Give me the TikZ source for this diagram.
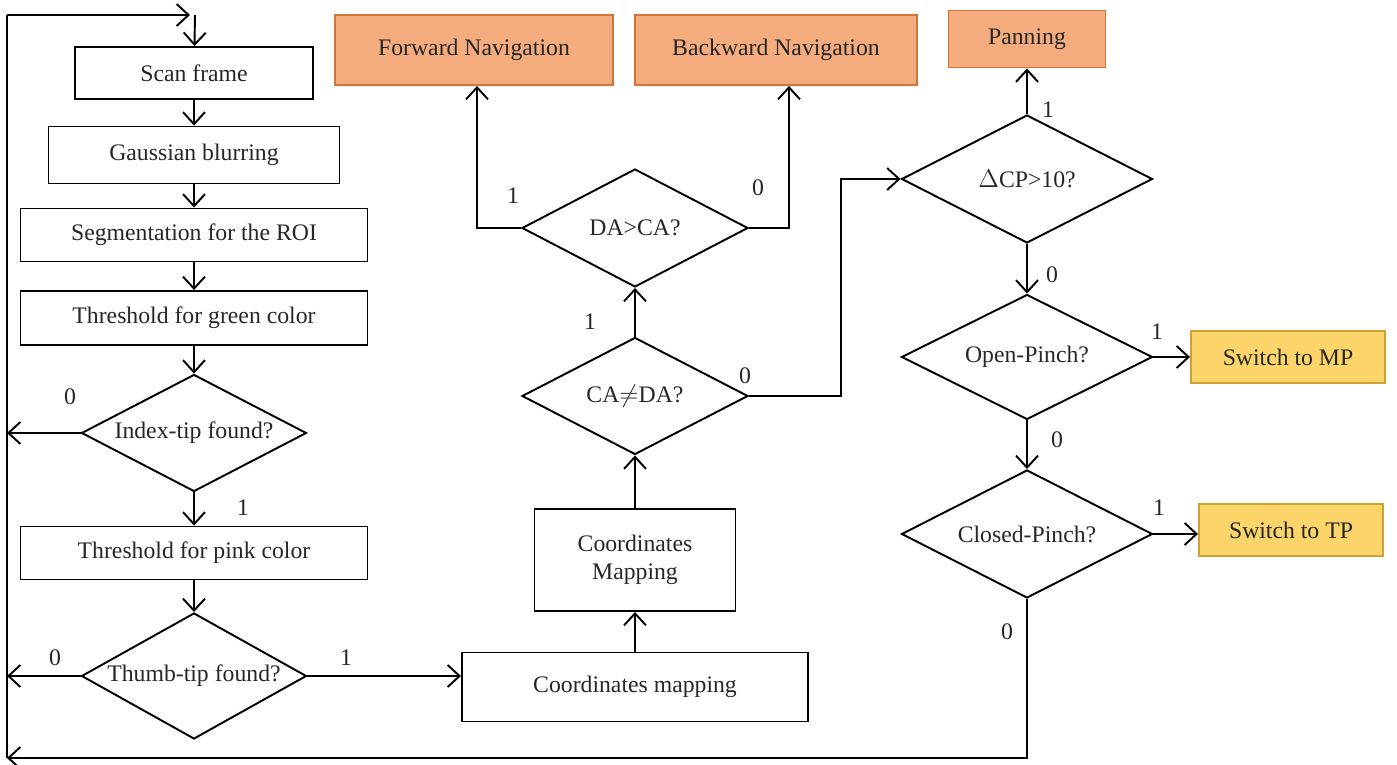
\documentclass[tikz,border=0pt]{standalone}
\usepackage{fontspec}
\setmainfont{Liberation Serif}
\usetikzlibrary{shapes.geometric,arrows.meta}
\definecolor{salmonfill}{RGB}{244,172,127}
\definecolor{salmonline}{RGB}{214,116,54}
\definecolor{goldfill}{RGB}{252,213,106}
\definecolor{goldline}{RGB}{208,160,50}
\begin{document}
\begin{tikzpicture}[x=0.2mm, y=-0.2mm, line width=1.1pt,
  every node/.style={font=\fontsize{13.5}{16}\selectfont, text=black!85},
  box/.style={draw, rectangle, inner sep=0pt},
  act/.style={box, draw=salmonline, fill=salmonfill},
  sw/.style={box, draw=goldline, fill=goldfill},
  test/.style={draw, diamond, aspect=1.92, inner sep=0pt},
  arr/.style={-{Straight Barb[length=2.4mm,width=4.4mm]}},
  lbl/.style={inner sep=0pt}]
  \useasboundingbox (0,0) rectangle (1397,765);
  \node[box, minimum width=47.6mm, minimum height=10.4mm] (scan) at (194,73) {Scan frame};
  \node[box, minimum width=58.2mm, minimum height=11.4mm] (blur) at (194,155) {Gaussian blurring};
  \node[box, minimum width=69.4mm, minimum height=10.6mm] (roi) at (194,235) {Segmentation for the ROI};
  \node[box, minimum width=69.4mm, minimum height=10.8mm] (green) at (194,318) {Threshold for green color};
  \node[test, minimum width=45mm, minimum height=23.4mm] (index) at (194,433) {Index-tip found?};
  \node[box, minimum width=69.4mm, minimum height=10.6mm] (pink) at (194,553) {Threshold for pink color};
  \node[test, minimum width=45mm, minimum height=25.2mm] (thumb) at (194,676) {Thumb-tip found?};
  \node[box, minimum width=69.2mm, minimum height=13.8mm] (map1) at (635,687) {Coordinates mapping};
  \node[box, minimum width=40.2mm, minimum height=20.4mm, align=center] (map2) at (635,560) {Coordinates\\Mapping};
  \node[test, minimum width=45.2mm, minimum height=23.4mm] (caneq) at (635,396) {CA$\neq$DA?};
  \node[test, minimum width=45.2mm, minimum height=23.6mm] (dagca) at (635,228) {DA>CA?};
  \node[act, minimum width=55.6mm, minimum height=14mm] (fwd) at (474,50) {Forward Navigation};
  \node[act, minimum width=56.4mm, minimum height=14mm] (bwd) at (776,50) {Backward Navigation};
  \node[act, minimum width=31.4mm, minimum height=11.4mm] (pan) at (1027,39) {Panning};
  \node[test, minimum width=50.2mm, minimum height=25.6mm] (dcp) at (1027,179) {$\Delta$CP>10?};
  \node[test, minimum width=50.2mm, minimum height=25mm] (open) at (1027,357) {Open-Pinch?};
  \node[test, minimum width=50.2mm, minimum height=25.6mm] (closed) at (1027,534) {Closed-Pinch?};
  \node[sw, minimum width=38.8mm, minimum height=10.4mm] (mp) at (1288,357) {Switch to MP};
  \node[sw, minimum width=36.8mm, minimum height=10.4mm] (tp) at (1291,530) {Switch to TP};
  \coordinate (ltop) at (7,15);
  \coordinate (lbot) at (7,758);
  \coordinate (topin) at (195,15);
  % left column
  \draw (lbot) -- (ltop);
  \draw[arr] (ltop) -- ([xshift=-1mm]topin);
  \draw[arr] (topin) -- (scan);
  \draw[arr] (scan) -- (blur);
  \draw[arr] (blur) -- (roi);
  \draw[arr] (roi) -- (green);
  \draw[arr] (green) -- (index);
  \draw[arr] (index) -- (pink);
  \draw[arr] (pink) -- (thumb);
  \draw[arr] (index.west) -- (index.west -| ltop);
  \draw[arr] (thumb.west) -- (thumb.west -| ltop);
  \draw[arr] (thumb.east) -- (thumb.east -| map1.west);
  % middle column
  \draw[arr] (map1) -- (map2);
  \draw[arr] (map2) -- (caneq);
  \draw[arr] (caneq) -- (dagca);
  \draw[arr] (dagca.west) -| ([xshift=0.6mm]fwd.south);
  \draw[arr] (dagca.east) -| ([xshift=2.6mm]bwd.south);
  \draw[arr] (caneq.east) -- ++(92,0) |- (dcp.west);
  % right column
  \draw[arr] (dcp) -- (pan);
  \draw[arr] (dcp) -- (open);
  \draw[arr] (open) -- (closed);
  \draw[arr] (open.east) -- (mp);
  \draw[arr] (closed.east) -- (tp.west |- closed.east);
  \draw[arr] (closed.south) |- (lbot);
  % branch labels
  \node[lbl] (l1) at (70,397) {0};
  \node[lbl] (l2) at (243,508) {1};
  \node[lbl] (l3) at (55,658) {0};
  \node[lbl] (l4) at (346,658) {1};
  \node[lbl] (l5) at (513,196) {1};
  \node[lbl] (l6) at (758,188) {0};
  \node[lbl] (l7) at (590,322) {1};
  \node[lbl] (l8) at (745,376) {0};
  \node[lbl] (l9) at (1048,110) {1};
  \node[lbl] (l10) at (1052,275) {0};
  \node[lbl] (l11) at (1157,332) {1};
  \node[lbl] (l12) at (1057,440) {0};
  \node[lbl] (l13) at (1159,508) {1};
  \node[lbl] (l14) at (1007,632) {0};
\end{tikzpicture}
\end{document}
